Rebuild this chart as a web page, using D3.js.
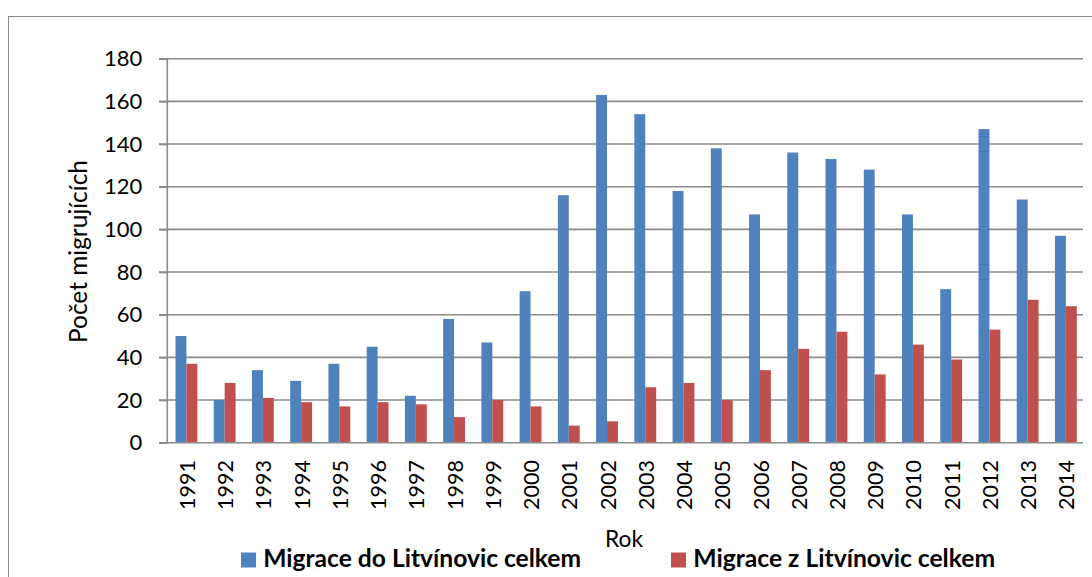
<!DOCTYPE html>
<html>
<head>
<meta charset="utf-8">
<script src="https://cdn.jsdelivr.net/npm/d3@7"></script>
<style>
  html, body { margin: 0; padding: 0; background: #fff; }
  svg { display: block; }
  text { font-family: Lato, "Open Sans", "Liberation Sans", sans-serif; fill: #000; }
</style>
</head>
<body>
<svg id="chart" width="1092" height="577"></svg>
<script>
const years = ["1991","1992","1993","1994","1995","1996","1997","1998","1999","2000","2001","2002","2003","2004","2005","2006","2007","2008","2009","2010","2011","2012","2013","2014"];
const migraceDo = [50,20,34,29,37,45,22,58,47,71,116,163,154,118,138,107,136,133,128,107,72,147,114,97];
const migraceZ  = [37,28,21,19,17,19,18,12,20,17,8,10,26,28,20,34,44,52,32,46,39,53,67,64];
const yTicks = [0,20,40,60,80,100,120,140,160,180];
const seriesNames = ["Migrace do Litvínovic celkem", "Migrace z Litvínovic celkem"];
const seriesColors = ["#4F81BD", "#C0504D"];
const yTitle = "Počet migrujících";
const xTitle = "Rok";

(function () {
const svg = d3.select("#chart");

// outer chart border (top and left visible)
svg.append("rect")
  .attr("x", 8.5).attr("y", 16.5)
  .attr("width", 1200).attr("height", 700)
  .attr("fill", "none").attr("stroke", "#8a8a8a").attr("stroke-width", 1);

const pLeft = 167.3, pRight = 1085, pTop = 58.7, pBottom = 442.7;

const x = d3.scaleBand().domain(years).range([pLeft, pRight]).paddingInner(0).paddingOuter(0);
const y = d3.scaleLinear().domain([0, 180]).range([pBottom, pTop]);

const bw = x.bandwidth();
const barW = bw / 3.5;

// gridlines
svg.append("g").selectAll("line").data(yTicks.filter(t => t > 0)).enter().append("line")
  .attr("x1", 159).attr("x2", pRight - 2)
  .attr("y1", d => y(d)).attr("y2", d => y(d))
  .attr("stroke", "#8a8a8a").attr("stroke-width", 1.6);

// bars
const series = [migraceDo, migraceZ];
series.forEach((vals, si) => {
  svg.append("g").selectAll("rect").data(years).enter().append("rect")
    .attr("x", d => x(d) + bw / 2 - barW + si * barW)
    .attr("y", (d, i) => y(vals[i]))
    .attr("width", barW)
    .attr("height", (d, i) => y(0) - y(vals[i]))
    .attr("fill", seriesColors[si]);
});

// y axis
const yAxis = d3.axisLeft(y).tickValues(yTicks).tickSize(8).tickPadding(17);
const ya = svg.append("g").attr("transform", `translate(${pLeft},0)`).call(yAxis);
ya.select(".domain").attr("stroke", "#8a8a8a").attr("stroke-width", 1.6).attr("d", `M-8,${pTop}H0V${pBottom}`);
ya.selectAll(".tick line").attr("stroke", "#8a8a8a").attr("stroke-width", 1.6);
ya.selectAll(".tick text").attr("font-size", 22).attr("fill", "#000")
  .attr("font-family", "Lato, 'Open Sans', sans-serif");

// x axis line
svg.append("line").attr("x1", 159).attr("x2", pRight - 2).attr("y1", pBottom).attr("y2", pBottom)
  .attr("stroke", "#8a8a8a").attr("stroke-width", 1.6);

// x labels
svg.append("g").selectAll("text").data(years).enter().append("text")
  .attr("transform", d => `translate(${x(d) + bw / 2 + 1},460) rotate(-90)`)
  .attr("text-anchor", "end").attr("dy", "0.35em")
  .attr("font-size", 21.5)
  .text(d => d);

function fit(sel, target, base) {
  const w = sel.node().getComputedTextLength();
  if (w > 0) sel.attr("font-size", base * target / w);
}

// y title
const yt = svg.append("text")
  .attr("transform", `translate(86.7,251.5) rotate(-90)`)
  .attr("text-anchor", "middle").attr("font-size", 20).text(yTitle);
fit(yt, 183, 20);

// x title
const xt = svg.append("text").attr("x", 605).attr("y", 546.7).attr("font-size", 20).text(xTitle);
fit(xt, 38, 20);

// legend
const legX = [241, 671], legTextX = [263.3, 693.3], legW = [318, 302];
seriesNames.forEach((name, i) => {
  svg.append("rect").attr("x", legX[i]).attr("y", 552.5).attr("width", 15).attr("height", 15)
    .attr("fill", seriesColors[i]);
  const t = svg.append("text").attr("x", legTextX[i]).attr("y", 566.7)
    .attr("font-weight", "bold").attr("font-size", 20).text(name);
  fit(t, legW[i], 20);
});
})();
</script>
</body>
</html>
